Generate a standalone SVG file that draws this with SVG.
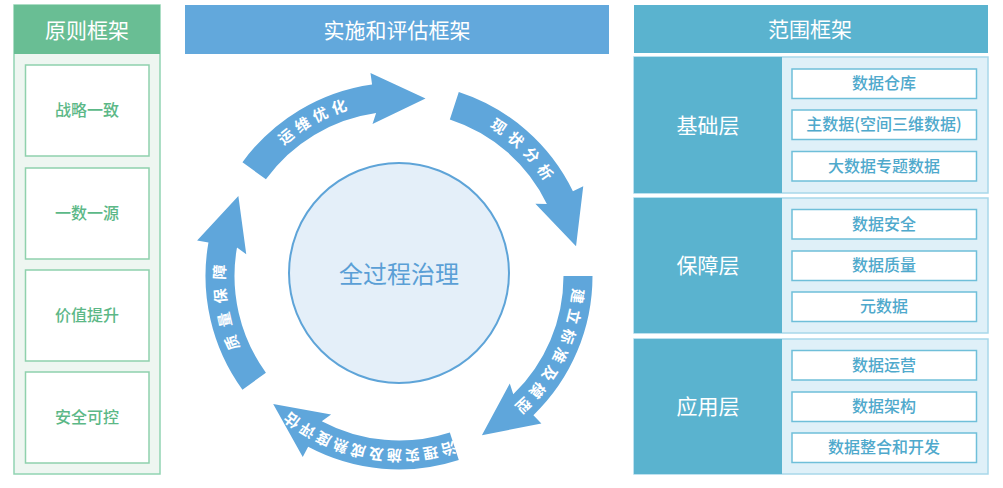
<svg xmlns="http://www.w3.org/2000/svg" xmlns:xlink="http://www.w3.org/1999/xlink" width="1003" height="488" viewBox="0 0 1003 488">
<style>
text{font-family:"Noto Sans CJK SC","Noto Sans",sans-serif;}
.hd{fill:#ffffff;font-size:21px;text-anchor:middle;}
.gbox{fill:#ffffff;stroke:#8fd1ad;stroke-width:1.5;}
.gt{fill:#5cb887;font-size:16px;font-weight:500;text-anchor:middle;}
.lay{fill:#dff0f8;stroke:#a8d8ea;stroke-width:1.5;}
.layd{fill:#5ab3cf;}
.bbox{fill:#ffffff;stroke:#6fbfd9;stroke-width:1.5;}
.bt{fill:#4fa9cc;font-size:16px;font-weight:500;text-anchor:middle;}
.lt{fill:#ffffff;font-size:21px;text-anchor:middle;}
.arr{fill:#5fa6db;}
.at{fill:#ffffff;font-size:15px;font-weight:bold;text-anchor:middle;}
</style>
<defs>
<path id="tp" d="M 237.11 212.23 A 174 174 0 0 1 433.69 105.49" fill="none"/>
<path id="arrowShape" d="M 242.45 162.26 A 193.5 193.5 0 0 1 372.07 84.38 L 370.47 73.0 L 425.53 98.47 L 372.5 124.0 L 376.11 113.1 A 164.5 164.5 0 0 0 265.92 179.31 Z"/>
</defs>
<rect width="1003" height="488" fill="#ffffff"/>

<!-- Left column: principles -->
<g id="principles">
<rect x="14" y="5" width="146" height="469" fill="#eef6f1" stroke="#91d4b2" stroke-width="1.5"/>
<rect x="14" y="5" width="146" height="49" fill="#69be94"/>
<text class="hd" x="87" y="37.5">原则框架</text>
</g>
<g id="p1"><rect class="gbox" x="25.5" y="65" width="123.5" height="91"/><text class="gt" x="87" y="116">战略一致</text></g>
<g id="p2"><rect class="gbox" x="25.5" y="168" width="123.5" height="91"/><text class="gt" x="87" y="219">一数一源</text></g>
<g id="p3"><rect class="gbox" x="25.5" y="270" width="123.5" height="91"/><text class="gt" x="87" y="321">价值提升</text></g>
<g id="p4"><rect class="gbox" x="25.5" y="372" width="123.5" height="91"/><text class="gt" x="87" y="423">安全可控</text></g>

<!-- Middle header -->
<g id="impl-header">
<rect x="185" y="5" width="424" height="49" fill="#62a8dc"/>
<text class="hd" x="397" y="37.5">实施和评估框架</text>
</g>

<!-- Center circle -->
<g id="center">
<circle cx="399" cy="273" r="110" fill="#e4eff9" stroke="#5ea4d8" stroke-width="2"/>
<text x="399" y="282.5" fill="#5a9fd6" font-size="24" text-anchor="middle" style="font-family:'Noto Sans CJK SC','Noto Sans',sans-serif">全过程治理</text>
</g>

<!-- Cycle arrows -->
<g id="connectors">
<g id="arrow-yunwei">
<use href="#arrowShape" class="arr"/>
<text class="at" letter-spacing="4.7"><textPath href="#tp" startOffset="50%">运维优化</textPath></text>
</g>
<g id="arrow-xianzhuang" transform="rotate(72 399 276)">
<use href="#arrowShape" class="arr"/>
<text class="at" letter-spacing="6.2"><textPath href="#tp" startOffset="52%">现状分析</textPath></text>
</g>
<g id="arrow-biaozhun" transform="rotate(144 399 276)">
<use href="#arrowShape" class="arr"/>
<text class="at" letter-spacing="5.1"><textPath href="#tp" startOffset="52%">建立标准及模型</textPath></text>
</g>
<g id="arrow-shishi" transform="rotate(216 399 276)">
<use href="#arrowShape" class="arr"/>
<text class="at" letter-spacing="2.7"><textPath href="#tp" startOffset="54%">治理实施及成熟度评估</textPath></text>
</g>
<g id="arrow-zhiliang" transform="rotate(288 399 276)">
<use href="#arrowShape" class="arr"/>
<text class="at" letter-spacing="8.3"><textPath href="#tp" startOffset="52%">质量保障</textPath></text>
</g>
</g>

<!-- Right column: scope -->
<g id="scope-header">
<rect x="634" y="5" width="354" height="48" fill="#5ab3cf"/>
<text class="hd" x="810" y="37">范围框架</text>
</g>

<g id="layer-base">
<rect class="lay" x="634" y="57" width="354" height="136"/>
<rect class="layd" x="634" y="57" width="148" height="136"/>
<text class="lt" x="708" y="132.5">基础层</text>
</g>
<g id="b1"><rect class="bbox" x="792" y="69" width="184.5" height="29.5"/><text class="bt" x="884" y="89.3">数据仓库</text></g>
<g id="b2"><rect class="bbox" x="792" y="110" width="184.5" height="29.5"/><text class="bt" x="884" y="130.3">主数据(空间三维数据)</text></g>
<g id="b3"><rect class="bbox" x="792" y="151.5" width="184.5" height="29.5"/><text class="bt" x="884" y="171.8">大数据专题数据</text></g>

<g id="layer-guarantee">
<rect class="lay" x="634" y="198" width="354" height="135"/>
<rect class="layd" x="634" y="198" width="148" height="135"/>
<text class="lt" x="708" y="273">保障层</text>
</g>
<g id="g1"><rect class="bbox" x="792" y="209.5" width="184.5" height="29.5"/><text class="bt" x="884" y="229.8">数据安全</text></g>
<g id="g2"><rect class="bbox" x="792" y="251" width="184.5" height="29.5"/><text class="bt" x="884" y="271.3">数据质量</text></g>
<g id="g3"><rect class="bbox" x="792" y="292" width="184.5" height="29.5"/><text class="bt" x="884" y="312.3">元数据</text></g>

<g id="layer-app">
<rect class="lay" x="634" y="339" width="354" height="135"/>
<rect class="layd" x="634" y="339" width="148" height="135"/>
<text class="lt" x="708" y="414">应用层</text>
</g>
<g id="a1"><rect class="bbox" x="792" y="350.5" width="184.5" height="29.5"/><text class="bt" x="884" y="370.8">数据运营</text></g>
<g id="a2"><rect class="bbox" x="792" y="392" width="184.5" height="29.5"/><text class="bt" x="884" y="412.3">数据架构</text></g>
<g id="a3"><rect class="bbox" x="792" y="433" width="184.5" height="29.5"/><text class="bt" x="884" y="453.3">数据整合和开发</text></g>
</svg>
